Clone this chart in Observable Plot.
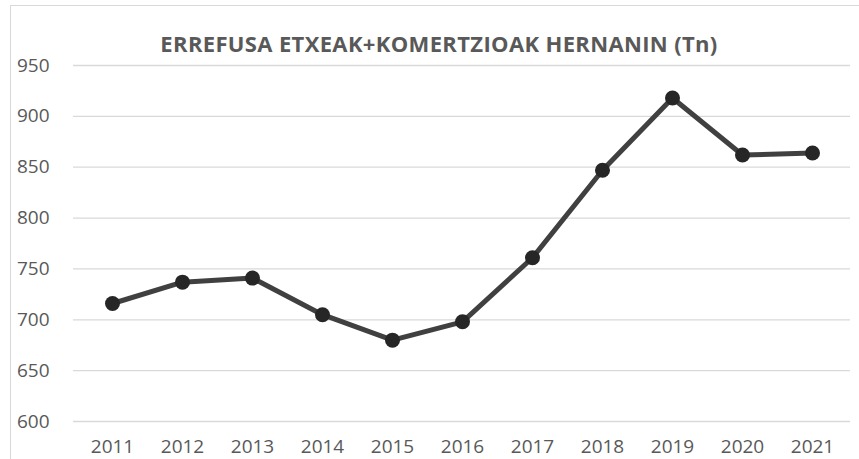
<!DOCTYPE html>
<html>
<head>
<meta charset="utf-8">
<script src="https://cdn.jsdelivr.net/npm/d3@7"></script>
<script src="https://cdn.jsdelivr.net/npm/@observablehq/plot@0.6"></script>
<style>
  html, body { margin: 0; padding: 0; background: #fff; overflow: hidden; }
  #wrap { position: relative; width: 859px; height: 459px; overflow: hidden; font-family: "Open Sans", sans-serif; }
  #frame { position: absolute; left: 10px; top: 5px; width: 1000px; height: 1000px; border-left: 1.5px solid #d9d9d9; border-top: 1.5px solid #d9d9d9; box-sizing: border-box; }
  #title { position: absolute; left: 0; top: 31.5px; width: 859px; text-align: center; box-sizing: border-box; padding-left: 19px; line-height: 22px; font-weight: bold; font-size: 22px; letter-spacing: 0.35px; color: #595959; white-space: nowrap; }
  #chart { position: absolute; left: 0; top: 46px; }
</style>
</head>
<body>
<div id="wrap">
  <div id="frame"></div>
  <div id="title">ERREFUSA ETXEAK+KOMERTZIOAK HERNANIN (Tn)</div>
  <div id="chart"></div>
</div>
<script>
const years = ["2011","2012","2013","2014","2015","2016","2017","2018","2019","2020","2021"];
const values = [716, 737, 741, 705, 680, 698, 761, 847, 918, 862, 864];
const yTicks = [600, 650, 700, 750, 800, 850, 900, 950];

const data = years.map((y, i) => ({year: y, value: values[i]}));

const plot = Plot.plot({
  width: 859,
  height: 413,
  marginTop: 19,
  marginBottom: 38,
  marginLeft: 73,
  marginRight: 9,
  style: {fontFamily: "'Open Sans', sans-serif", fontSize: "19px", color: "#595959", background: "transparent", overflow: "visible"},
  x: {type: "point", domain: years, padding: 0.5, label: null, tickSize: 0, tickPadding: 18},
  y: {domain: [600, 950], ticks: yTicks, label: null, tickSize: 0, tickPadding: 24},
  marks: [
    Plot.gridY(yTicks, {stroke: "#d9d9d9", strokeOpacity: 1, strokeWidth: 1.3}),
    Plot.axisX({tickSize: 0, tickPadding: 18, fontSize: 19, fill: "#595959"}),
    Plot.axisY({ticks: yTicks, tickSize: 0, tickPadding: 24, fontSize: 19, fill: "#595959"}),
    Plot.line(data, {x: "year", y: "value", stroke: "#404040", strokeWidth: 5, strokeLinejoin: "round"}),
    Plot.dot(data, {x: "year", y: "value", r: 7.5, fill: "#262626", stroke: "none"})
  ]
});
document.getElementById("chart").appendChild(plot);
</script>
</body>
</html>
